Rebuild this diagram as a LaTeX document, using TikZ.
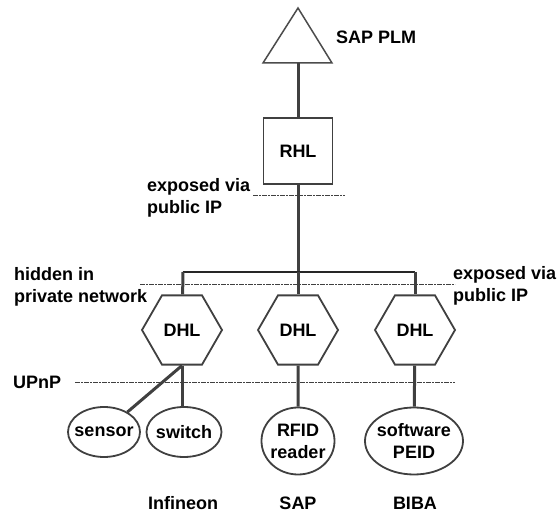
\documentclass[tikz,border=0pt]{standalone}
\usepackage{fontspec}
\setmainfont{Liberation Sans}
\usetikzlibrary{shapes.geometric}
\begin{document}
\begin{tikzpicture}[x=1pt,y=-1pt,
 conn/.style={draw=black!75, line width=3pt},
 busline/.style={draw=black!85, line width=1.3pt},
 shp/.style={draw=black!75, line width=1.8pt},
 hexa/.style={shp, regular polygon, regular polygon sides=6, minimum size=80pt, inner sep=0pt},
 dev/.style={shp, ellipse, inner sep=0pt},
 sep/.style={draw=black!75, line width=1pt, dash pattern=on 5pt off 1pt on 2pt off 1pt},
 lbl/.style={font=\fontsize{18}{22}\selectfont\bfseries, align=left, inner sep=0pt},
 inl/.style={font=\fontsize{18}{22}\selectfont\bfseries, align=center, inner sep=0pt}
]
\useasboundingbox (0,0) rectangle (558,516);

% separators
\coordinate (s1a) at (253,196); \coordinate (s1b) at (345,196);
\coordinate (s2a) at (140,285); \coordinate (s2b) at (455,285);
\coordinate (s3a) at (75,383);  \coordinate (s3b) at (455,383);
\draw[sep] (s1a) -- (s1b);
\draw[sep] (s2a) -- (s2b);
\draw[sep] (s3a) -- (s3b);

% SAP PLM triangle
\draw[draw=black!70, line width=1.5pt] (298,8) coordinate (apex) -- (332,63) -- (263,63) -- cycle;
\coordinate (plm) at (298,63);
\node[lbl, anchor=west] (plmlbl) at (336,37) {SAP PLM};

% RHL
\node[shp, minimum width=69pt, minimum height=66pt, inner sep=0pt, font=\fontsize{18}{22}\selectfont\bfseries] (rhl) at (298,151) {RHL};

% bus
\coordinate (b1) at (183,272); \coordinate (b2) at (298,272); \coordinate (b3) at (415,272);

% DHLs
\node[hexa, inl] (dhl1) at (182,330) {DHL};
\node[hexa, inl] (dhl2) at (298,330) {DHL};
\node[hexa, inl] (dhl3) at (415,330) {DHL};

% devices
\node[dev, minimum width=72pt, minimum height=50pt, label={[inl]center:sensor}] (sensor) at (104,432) {};
\node[dev, minimum width=75pt, minimum height=50pt, label={[inl]center:switch}] (switch) at (184,432) {};
\node[dev, minimum width=73pt, minimum height=67pt, label={[inl]center:{RFID\\reader}}] (rfid) at (298,441) {};
\node[dev, minimum width=98pt, minimum height=67pt, label={[inl]center:{software\\PEID}}] (peid) at (414,441) {};

% connectors
\draw[conn] (plm) -- (rhl);
\draw[conn] (rhl) -- (b2);
\draw[busline] (b1) -- (b3);
\draw[conn] (b1) -- (dhl1);
\draw[conn] (b2) -- (dhl2);
\draw[conn] (b3) -- (dhl3);
\draw[conn] (dhl1.south) -- (sensor);
\draw[conn] (dhl1.south) -- (dhl1.south |- switch.north);
\draw[conn] (dhl2) -- (rfid);
\draw[conn] (dhl3) -- (peid);

% labels
\node[lbl, anchor=west] (exp1) at (147,198) {exposed via\\public IP};
\node[lbl, anchor=west] (hid) at (14,287) {hidden in\\private network};
\node[lbl, anchor=west] (exp2) at (453,286) {exposed via\\public IP};
\node[lbl, anchor=west] (upnp) at (13,382) {UPnP};
\node[lbl] (inf) at (183,503) {Infineon};
\node[lbl] (sap) at (298,503) {SAP};
\node[lbl] (biba) at (415,503) {BIBA};
\end{tikzpicture}
\end{document}
